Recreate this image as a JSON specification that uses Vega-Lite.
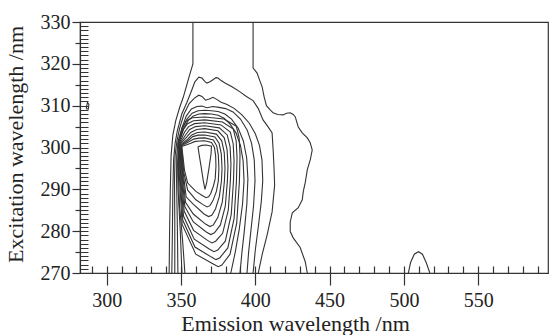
{
"$schema":"https://vega.github.io/schema/vega-lite/v6.json",
"width":468,"height":251,
"autosize":{"type":"none"},
"padding":{"left":80,"top":22,"right":1,"bottom":62},
"background":"white",
"config":{"view":{"stroke":"#333","strokeWidth":1.2}},
"datasets":{"c":[
{"c":"A","i":0,"x":358,"y":330},{"c":"A","i":1,"x":358,"y":320},{"c":"A","i":2,"x":357,"y":318.8},{"c":"A","i":3,"x":355.5,"y":317},{"c":"A","i":4,"x":353.5,"y":314.5},{"c":"A","i":5,"x":351.5,"y":312},{"c":"A","i":6,"x":349,"y":309.5},{"c":"A","i":7,"x":346.5,"y":306.5},{"c":"A","i":8,"x":344.5,"y":303},{"c":"A","i":9,"x":343.3,"y":298},{"c":"A","i":10,"x":342.8,"y":290},{"c":"A","i":11,"x":342.3,"y":280},{"c":"A","i":12,"x":342,"y":270},
{"c":"B","i":0,"x":398.5,"y":330},{"c":"B","i":1,"x":398.5,"y":319},{"c":"B","i":2,"x":401.2,"y":317.8},{"c":"B","i":3,"x":403,"y":316},{"c":"B","i":4,"x":404.6,"y":314.5},{"c":"B","i":5,"x":406,"y":312},{"c":"B","i":6,"x":407.5,"y":310},{"c":"B","i":7,"x":410,"y":309},{"c":"B","i":8,"x":412,"y":308.3},{"c":"B","i":9,"x":415,"y":307.9},{"c":"B","i":10,"x":418.7,"y":307.8},{"c":"B","i":11,"x":421,"y":308.2},{"c":"B","i":12,"x":423.5,"y":308.3},{"c":"B","i":13,"x":425.5,"y":307.9},{"c":"B","i":14,"x":426.9,"y":307.3},{"c":"B","i":15,"x":428.9,"y":304.9},{"c":"B","i":16,"x":431.6,"y":303.5},{"c":"B","i":17,"x":435,"y":302.3},{"c":"B","i":18,"x":437,"y":301.1},{"c":"B","i":19,"x":438.3,"y":299.4},{"c":"B","i":20,"x":437,"y":297.1},{"c":"B","i":21,"x":435,"y":294.7},{"c":"B","i":22,"x":433.6,"y":291.6},{"c":"B","i":23,"x":432.3,"y":289.5},{"c":"B","i":24,"x":431.6,"y":287.5},{"c":"B","i":25,"x":428.9,"y":285.6},{"c":"B","i":26,"x":424.9,"y":284.4},{"c":"B","i":27,"x":423.5,"y":282.2},{"c":"B","i":28,"x":423.5,"y":279.9},{"c":"B","i":29,"x":425.5,"y":278.4},{"c":"B","i":30,"x":430.2,"y":276.1},{"c":"B","i":31,"x":433.6,"y":272.7},{"c":"B","i":32,"x":435,"y":270},
{"c":"C","i":0,"x":343.8,"y":270},{"c":"C","i":1,"x":344.2,"y":280},{"c":"C","i":2,"x":344.5,"y":290},{"c":"C","i":3,"x":345,"y":297},{"c":"C","i":4,"x":346,"y":301},{"c":"C","i":5,"x":347.5,"y":304},{"c":"C","i":6,"x":350.5,"y":308},{"c":"C","i":7,"x":354,"y":310.8},{"c":"C","i":8,"x":357,"y":313.5},{"c":"C","i":9,"x":359.3,"y":315.7},{"c":"C","i":10,"x":362,"y":316.8},{"c":"C","i":11,"x":364.1,"y":316.6},{"c":"C","i":12,"x":366,"y":315.8},{"c":"C","i":13,"x":367.4,"y":315.4},{"c":"C","i":14,"x":369.5,"y":315.7},{"c":"C","i":15,"x":371.5,"y":316.2},{"c":"C","i":16,"x":373.5,"y":316.7},{"c":"C","i":17,"x":374.9,"y":316.6},{"c":"C","i":18,"x":377,"y":316},{"c":"C","i":19,"x":379.6,"y":315.4},{"c":"C","i":20,"x":384.3,"y":314.5},{"c":"C","i":21,"x":389.7,"y":313.3},{"c":"C","i":22,"x":394,"y":312.2},{"c":"C","i":23,"x":398.5,"y":311.2},{"c":"C","i":24,"x":402,"y":309.3},{"c":"C","i":25,"x":405.2,"y":306.6},{"c":"C","i":26,"x":408.5,"y":305},{"c":"C","i":27,"x":411.3,"y":303.5},{"c":"C","i":28,"x":412,"y":299.4},{"c":"C","i":29,"x":412.6,"y":295},{"c":"C","i":30,"x":413,"y":291},{"c":"C","i":31,"x":411.3,"y":284.6},{"c":"C","i":32,"x":408,"y":279.2},{"c":"C","i":33,"x":404.6,"y":274.4},{"c":"C","i":34,"x":402,"y":270},
{"c":"D","i":0,"x":345.8,"y":270},{"c":"D","i":1,"x":345.8,"y":282},{"c":"D","i":2,"x":345.6,"y":292},{"c":"D","i":3,"x":346,"y":298},{"c":"D","i":4,"x":347.2,"y":301.5},{"c":"D","i":5,"x":349,"y":304.5},{"c":"D","i":6,"x":352,"y":308},{"c":"D","i":7,"x":355.5,"y":310.5},{"c":"D","i":8,"x":359,"y":311.8},{"c":"D","i":9,"x":362,"y":312.5},{"c":"D","i":10,"x":364.1,"y":312.2},{"c":"D","i":11,"x":366.5,"y":311.3},{"c":"D","i":12,"x":369,"y":311.6},{"c":"D","i":13,"x":371.5,"y":312},{"c":"D","i":14,"x":374,"y":311.5},{"c":"D","i":15,"x":377,"y":310.8},{"c":"D","i":16,"x":381,"y":310.3},{"c":"D","i":17,"x":386,"y":309.3},{"c":"D","i":18,"x":391,"y":307.8},{"c":"D","i":19,"x":396,"y":305.8},{"c":"D","i":20,"x":400,"y":303.3},{"c":"D","i":21,"x":402.8,"y":300.5},{"c":"D","i":22,"x":404.5,"y":297},{"c":"D","i":23,"x":405,"y":292},{"c":"D","i":24,"x":404,"y":287},{"c":"D","i":25,"x":402,"y":281},{"c":"D","i":26,"x":400,"y":275.5},{"c":"D","i":27,"x":398.5,"y":270},
{"c":"E","i":0,"x":347.9,"y":270},{"c":"E","i":1,"x":347.5,"y":282},{"c":"E","i":2,"x":347,"y":292},{"c":"E","i":3,"x":347.1,"y":298},{"c":"E","i":4,"x":348,"y":301.5},{"c":"E","i":5,"x":350.5,"y":304.5},{"c":"E","i":6,"x":353.5,"y":307.5},{"c":"E","i":7,"x":357,"y":309.2},{"c":"E","i":8,"x":360.7,"y":309.8},{"c":"E","i":9,"x":364,"y":309.9},{"c":"E","i":10,"x":367.5,"y":309.5},{"c":"E","i":11,"x":371.5,"y":309.8},{"c":"E","i":12,"x":375.5,"y":309.6},{"c":"E","i":13,"x":380,"y":309.3},{"c":"E","i":14,"x":385,"y":308.5},{"c":"E","i":15,"x":390,"y":306.8},{"c":"E","i":16,"x":394.5,"y":304.2},{"c":"E","i":17,"x":397.5,"y":301},{"c":"E","i":18,"x":399.3,"y":297},{"c":"E","i":19,"x":399.8,"y":292},{"c":"E","i":20,"x":398.8,"y":286},{"c":"E","i":21,"x":397,"y":280},{"c":"E","i":22,"x":395.5,"y":275},{"c":"E","i":23,"x":394.4,"y":270},
{"c":"F","i":0,"x":350.6,"y":270},{"c":"F","i":1,"x":349.5,"y":280},{"c":"F","i":2,"x":348,"y":290},{"c":"F","i":3,"x":347.7,"y":296},{"c":"F","i":4,"x":348.2,"y":301.2},{"c":"F","i":5,"x":351,"y":304.5},{"c":"F","i":6,"x":354,"y":306.8},{"c":"F","i":7,"x":357.5,"y":308.2},{"c":"F","i":8,"x":361.5,"y":308.8},{"c":"F","i":9,"x":366,"y":308.9},{"c":"F","i":10,"x":370.5,"y":308.8},{"c":"F","i":11,"x":375,"y":308.6},{"c":"F","i":12,"x":379.5,"y":308},{"c":"F","i":13,"x":384,"y":306.8},{"c":"F","i":14,"x":388.5,"y":304.6},{"c":"F","i":15,"x":392,"y":301.5},{"c":"F","i":16,"x":394.2,"y":297.5},{"c":"F","i":17,"x":395,"y":292.5},{"c":"F","i":18,"x":394.3,"y":286.5},{"c":"F","i":19,"x":392.6,"y":280},{"c":"F","i":20,"x":391,"y":275},{"c":"F","i":21,"x":389.7,"y":270},
{"c":"G","i":0,"x":352.6,"y":270},{"c":"G","i":1,"x":351,"y":278},{"c":"G","i":2,"x":349,"y":286},{"c":"G","i":3,"x":348.3,"y":293},{"c":"G","i":4,"x":348.3,"y":297},{"c":"G","i":5,"x":348.4,"y":301.3},{"c":"G","i":6,"x":351.5,"y":304.3},{"c":"G","i":7,"x":354.5,"y":306.3},{"c":"G","i":8,"x":358,"y":307.5},{"c":"G","i":9,"x":362,"y":308},{"c":"G","i":10,"x":366,"y":308.1},{"c":"G","i":11,"x":370.5,"y":308},{"c":"G","i":12,"x":375,"y":307.7},{"c":"G","i":13,"x":379,"y":307},{"c":"G","i":14,"x":383,"y":305.6},{"c":"G","i":15,"x":387,"y":303.5},{"c":"G","i":16,"x":390,"y":300.5},{"c":"G","i":17,"x":391.8,"y":296.8},{"c":"G","i":18,"x":392.4,"y":292},{"c":"G","i":19,"x":391.4,"y":286.5},{"c":"G","i":20,"x":389.2,"y":280.5},{"c":"G","i":21,"x":386.5,"y":275},{"c":"G","i":22,"x":383.5,"y":270},
{"c":"L1","i":0,"x":348.55,"y":301.45},{"c":"L1","i":1,"x":351,"y":305.1},{"c":"L1","i":2,"x":353.7,"y":306.4},{"c":"L1","i":3,"x":357.7,"y":307.1},{"c":"L1","i":4,"x":366,"y":307.3},{"c":"L1","i":5,"x":378.9,"y":306.8},{"c":"L1","i":6,"x":387.2,"y":305.1},{"c":"L1","i":7,"x":389.1,"y":302.3},{"c":"L1","i":8,"x":389.7,"y":298.3},{"c":"L1","i":9,"x":389.3,"y":292},{"c":"L1","i":10,"x":387.5,"y":282},{"c":"L1","i":11,"x":383,"y":274.5},{"c":"L1","i":12,"x":377.5,"y":271.9},{"c":"L1","i":13,"x":375,"y":271.5},{"c":"L1","i":14,"x":372,"y":272.1},{"c":"L1","i":15,"x":359.9,"y":274.5},{"c":"L1","i":16,"x":350.75,"y":281.6},{"c":"L1","i":17,"x":348.75,"y":294},{"c":"L1","i":18,"x":348.55,"y":301.45},
{"c":"L2","i":0,"x":348.8,"y":301.3},{"c":"L2","i":1,"x":351.7,"y":304.4},{"c":"L2","i":2,"x":354.4,"y":305.7},{"c":"L2","i":3,"x":358.4,"y":306.4},{"c":"L2","i":4,"x":366,"y":306.6},{"c":"L2","i":5,"x":377.9,"y":306.1},{"c":"L2","i":6,"x":385.2,"y":304.4},{"c":"L2","i":7,"x":387.1,"y":301.6},{"c":"L2","i":8,"x":387.7,"y":297.6},{"c":"L2","i":9,"x":387.3,"y":292},{"c":"L2","i":10,"x":385.7,"y":283},{"c":"L2","i":11,"x":381.5,"y":276},{"c":"L2","i":12,"x":376,"y":273.6},{"c":"L2","i":13,"x":373.5,"y":273.2},{"c":"L2","i":14,"x":370.5,"y":273.8},{"c":"L2","i":15,"x":359.35,"y":276.2},{"c":"L2","i":16,"x":351.2,"y":282.6},{"c":"L2","i":17,"x":349.2,"y":294},{"c":"L2","i":18,"x":348.8,"y":301.3},
{"c":"L3","i":0,"x":349.05,"y":301.15},{"c":"L3","i":1,"x":352.4,"y":303.7},{"c":"L3","i":2,"x":355.1,"y":305},{"c":"L3","i":3,"x":359.1,"y":305.7},{"c":"L3","i":4,"x":366,"y":305.9},{"c":"L3","i":5,"x":376.9,"y":305.4},{"c":"L3","i":6,"x":383.2,"y":303.7},{"c":"L3","i":7,"x":385.1,"y":300.9},{"c":"L3","i":8,"x":385.7,"y":296.9},{"c":"L3","i":9,"x":385.3,"y":292},{"c":"L3","i":10,"x":383.8,"y":284},{"c":"L3","i":11,"x":379.8,"y":277.6},{"c":"L3","i":12,"x":374.7,"y":275.5},{"c":"L3","i":13,"x":372.2,"y":275.1},{"c":"L3","i":14,"x":369.2,"y":275.7},{"c":"L3","i":15,"x":358.9,"y":278.1},{"c":"L3","i":16,"x":351.65,"y":283.6},{"c":"L3","i":17,"x":349.65,"y":294},{"c":"L3","i":18,"x":349.05,"y":301.15},
{"c":"L4","i":0,"x":349.3,"y":301},{"c":"L4","i":1,"x":353.1,"y":303},{"c":"L4","i":2,"x":355.8,"y":304.3},{"c":"L4","i":3,"x":359.8,"y":305},{"c":"L4","i":4,"x":366,"y":305.2},{"c":"L4","i":5,"x":375.8,"y":304.7},{"c":"L4","i":6,"x":381.1,"y":303},{"c":"L4","i":7,"x":383,"y":300.2},{"c":"L4","i":8,"x":383.6,"y":296.2},{"c":"L4","i":9,"x":383.2,"y":292},{"c":"L4","i":10,"x":381.8,"y":285},{"c":"L4","i":11,"x":378,"y":279.5},{"c":"L4","i":12,"x":373.3,"y":277.6},{"c":"L4","i":13,"x":370.8,"y":277.2},{"c":"L4","i":14,"x":367.8,"y":277.8},{"c":"L4","i":15,"x":358.45,"y":280.2},{"c":"L4","i":16,"x":352.1,"y":284.8},{"c":"L4","i":17,"x":350.1,"y":294},{"c":"L4","i":18,"x":349.3,"y":301},
{"c":"L5","i":0,"x":349.55,"y":300.85},{"c":"L5","i":1,"x":353.8,"y":302.5},{"c":"L5","i":2,"x":356.5,"y":303.6},{"c":"L5","i":3,"x":360.5,"y":304.3},{"c":"L5","i":4,"x":366,"y":304.5},{"c":"L5","i":5,"x":374.8,"y":304},{"c":"L5","i":6,"x":379.1,"y":302.3},{"c":"L5","i":7,"x":381,"y":299.5},{"c":"L5","i":8,"x":381.6,"y":295.5},{"c":"L5","i":9,"x":381.2,"y":292},{"c":"L5","i":10,"x":379.8,"y":286},{"c":"L5","i":11,"x":376.5,"y":281.5},{"c":"L5","i":12,"x":372.5,"y":279.6},{"c":"L5","i":13,"x":370,"y":279.2},{"c":"L5","i":14,"x":367,"y":279.8},{"c":"L5","i":15,"x":358.3,"y":282.2},{"c":"L5","i":16,"x":352.55,"y":285.9},{"c":"L5","i":17,"x":350.55,"y":294},{"c":"L5","i":18,"x":349.55,"y":300.85},
{"c":"L6","i":0,"x":349.8,"y":300.7},{"c":"L6","i":1,"x":354.5,"y":302},{"c":"L6","i":2,"x":357.2,"y":303},{"c":"L6","i":3,"x":361,"y":303.6},{"c":"L6","i":4,"x":366,"y":303.7},{"c":"L6","i":5,"x":373.8,"y":303.2},{"c":"L6","i":6,"x":377.4,"y":301.6},{"c":"L6","i":7,"x":379.1,"y":298.8},{"c":"L6","i":8,"x":379.6,"y":295},{"c":"L6","i":9,"x":379.2,"y":292},{"c":"L6","i":10,"x":377.8,"y":287},{"c":"L6","i":11,"x":374.8,"y":283.3},{"c":"L6","i":12,"x":371.8,"y":281.5},{"c":"L6","i":13,"x":369.5,"y":281.1},{"c":"L6","i":14,"x":366.5,"y":281.7},{"c":"L6","i":15,"x":358.25,"y":284.1},{"c":"L6","i":16,"x":353,"y":286.9},{"c":"L6","i":17,"x":351,"y":294},{"c":"L6","i":18,"x":349.8,"y":300.7},
{"c":"L7","i":0,"x":350.05,"y":300.55},{"c":"L7","i":1,"x":355.2,"y":301.8},{"c":"L7","i":2,"x":357.9,"y":302.6},{"c":"L7","i":3,"x":361.5,"y":302.95},{"c":"L7","i":4,"x":366,"y":303},{"c":"L7","i":5,"x":372.8,"y":302.5},{"c":"L7","i":6,"x":375.6,"y":301},{"c":"L7","i":7,"x":377.1,"y":298.5},{"c":"L7","i":8,"x":377.6,"y":295},{"c":"L7","i":9,"x":377.2,"y":292},{"c":"L7","i":10,"x":375.8,"y":288.3},{"c":"L7","i":11,"x":373.2,"y":285.3},{"c":"L7","i":12,"x":370.7,"y":283.8},{"c":"L7","i":13,"x":368.5,"y":283.5},{"c":"L7","i":14,"x":365.5,"y":284.1},{"c":"L7","i":15,"x":358,"y":286.5},{"c":"L7","i":16,"x":353.45,"y":288.2},{"c":"L7","i":17,"x":351.45,"y":294},{"c":"L7","i":18,"x":350.05,"y":300.55},
{"c":"L8","i":0,"x":350.3,"y":300.4},{"c":"L8","i":1,"x":355.9,"y":301.5},{"c":"L8","i":2,"x":358.5,"y":302},{"c":"L8","i":3,"x":362,"y":302.25},{"c":"L8","i":4,"x":366,"y":302.3},{"c":"L8","i":5,"x":371.8,"y":301.8},{"c":"L8","i":6,"x":374,"y":300.4},{"c":"L8","i":7,"x":375.1,"y":298.2},{"c":"L8","i":8,"x":375.5,"y":295},{"c":"L8","i":9,"x":375.1,"y":292},{"c":"L8","i":10,"x":373.8,"y":289.5},{"c":"L8","i":11,"x":371.5,"y":287.3},{"c":"L8","i":12,"x":369.5,"y":286.1},{"c":"L8","i":13,"x":367.5,"y":285.8},{"c":"L8","i":14,"x":364.5,"y":286.4},{"c":"L8","i":15,"x":360,"y":287.5},{"c":"L8","i":16,"x":354.5,"y":289.8},{"c":"L8","i":17,"x":351.9,"y":294},{"c":"L8","i":18,"x":350.3,"y":300.4},
{"c":"L9","i":0,"x":350.55,"y":300.25},{"c":"L9","i":1,"x":356.6,"y":301},{"c":"L9","i":2,"x":359,"y":301.4},{"c":"L9","i":3,"x":362.5,"y":301.55},{"c":"L9","i":4,"x":366,"y":301.6},{"c":"L9","i":5,"x":370.5,"y":301.2},{"c":"L9","i":6,"x":372.5,"y":300},{"c":"L9","i":7,"x":373.3,"y":298},{"c":"L9","i":8,"x":373.5,"y":295.5},{"c":"L9","i":9,"x":373,"y":292.5},{"c":"L9","i":10,"x":371.8,"y":290.8},{"c":"L9","i":11,"x":370,"y":289},{"c":"L9","i":12,"x":368.5,"y":288.2},{"c":"L9","i":13,"x":366.8,"y":288},{"c":"L9","i":14,"x":364,"y":288.6},{"c":"L9","i":15,"x":360,"y":289.5},{"c":"L9","i":16,"x":354.5,"y":291.5},{"c":"L9","i":17,"x":352.35,"y":294.5},{"c":"L9","i":18,"x":350.55,"y":300.25},
{"c":"V","i":0,"x":361.4,"y":300.2},{"c":"V","i":1,"x":364,"y":300.5},{"c":"V","i":2,"x":367,"y":300.6},{"c":"V","i":3,"x":370.5,"y":300.3},{"c":"V","i":4,"x":370.2,"y":298.5},{"c":"V","i":5,"x":368.8,"y":295},{"c":"V","i":6,"x":367.2,"y":291.5},{"c":"V","i":7,"x":366.1,"y":290},{"c":"V","i":8,"x":365,"y":292},{"c":"V","i":9,"x":363.5,"y":295.5},{"c":"V","i":10,"x":362.2,"y":298.3},{"c":"V","i":11,"x":361.4,"y":300.2},
{"c":"P","i":0,"x":503,"y":270},{"c":"P","i":1,"x":504.5,"y":272.5},{"c":"P","i":2,"x":507,"y":274.5},{"c":"P","i":3,"x":509.8,"y":275.1},{"c":"P","i":4,"x":512.5,"y":274.5},{"c":"P","i":5,"x":515,"y":272.5},{"c":"P","i":6,"x":517.5,"y":270},
{"c":"S","i":0,"x":286.2,"y":309.3},{"c":"S","i":1,"x":287,"y":310.8},{"c":"S","i":2,"x":288,"y":310.3},{"c":"S","i":3,"x":287.6,"y":309.2},{"c":"S","i":4,"x":286.2,"y":309.3}
]},
"layer":[
{"data":{"name":"c"},
 "mark":{"type":"line","stroke":"#333","strokeWidth":1.1,"clip":true},
 "encoding":{
  "x":{"field":"x","type":"quantitative","scale":{"domain":[282,597],"nice":false,"zero":false},
   "axis":{"values":[300,350,400,450,500,550],"tickSize":12,"tickColor":"#333","tickWidth":1.2,"domainColor":"#333","domainWidth":1.2,"grid":false,
     "labelFont":"Liberation Serif","labelFontSize":20,"labelColor":"#222","labelPadding":5,
     "title":"Emission wavelength /nm","titleFont":"Liberation Serif","titleFontSize":22,"titleFontWeight":"normal","titleColor":"#222","titleBaseline":"alphabetic","titleX":215,"titleY":57}},
  "y":{"field":"y","type":"quantitative","scale":{"domain":[270,330],"nice":false,"zero":false},
   "axis":{"values":[270,280,290,300,310,320,330],"tickSize":8,"tickColor":"#333","tickWidth":1.2,"domainColor":"#333","domainWidth":1.2,"grid":false,
     "labelFont":"Liberation Serif","labelFontSize":20,"labelColor":"#222","labelPadding":2,
     "title":"Excitation wavelength /nm","titleFont":"Liberation Serif","titleFontSize":22,"titleFontWeight":"normal","titleColor":"#222","titleX":-53,"titleY":122}},
  "detail":{"field":"c"},
  "order":{"field":"i","type":"quantitative"}}},
{"data":{"name":"c"},
 "mark":{"type":"point","opacity":0},
 "encoding":{
  "x":{"field":"x","type":"quantitative","axis":{"orient":"bottom","values":[290,300,310,320,330,340,350,360,370,380,390,400,410,420,430,440,450,460,470,480,490,500,510,520,530,540,550,560,570,580,590],"tickSize":-7,"tickColor":"#333","tickWidth":1.2,"labels":false,"domain":false,"grid":false,"title":null}},
  "y":{"field":"y","type":"quantitative","axis":{"orient":"left","values":[270,271,272,273,274,275,276,277,278,279,280,281,282,283,284,285,286,287,288,289,290,291,292,293,294,295,296,297,298,299,300,301,302,303,304,305,306,307,308,309,310,311,312,313,314,315,316,317,318,319,320,321,322,323,324,325,326,327,328,329,330],"tickSize":-8,"tickColor":"#333","tickWidth":1,"labels":false,"domain":false,"grid":false,"title":null}}}},
{"data":{"name":"c"},
 "mark":{"type":"point","opacity":0},
 "encoding":{
  "x":{"field":"x","type":"quantitative","axis":null},
  "y":{"field":"y","type":"quantitative","axis":{"orient":"left","values":[275,285,295,305,315,325],"tickSize":5,"tickColor":"#333","tickWidth":1.2,"labels":false,"domain":false,"grid":false,"title":null}}}}
],
"resolve":{"axis":{"x":"independent","y":"independent"}}
}
